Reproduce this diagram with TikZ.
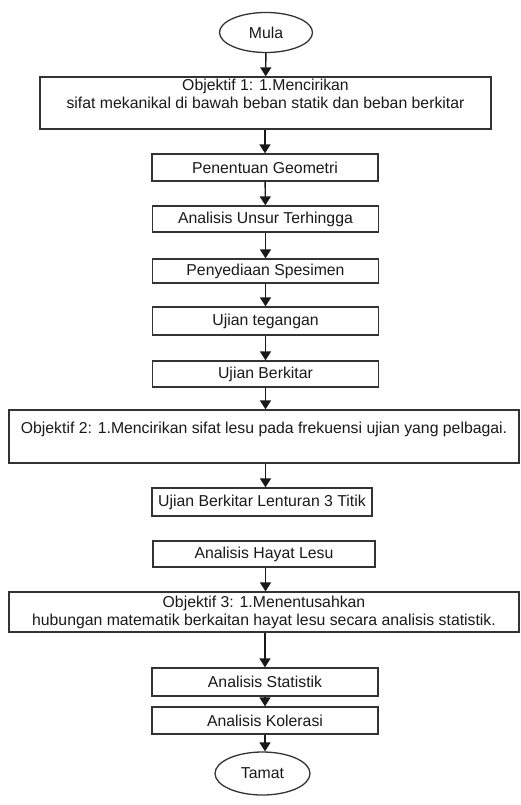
\documentclass[tikz,border=0pt]{standalone}
\usepackage{fontspec}
\setmainfont{Liberation Sans}
\usetikzlibrary{arrows.meta}
\usetikzlibrary{shapes.geometric}

\begin{document}
\begin{tikzpicture}[x=1pt,y=-1pt,
  txt/.style={font=\fontsize{15.8}{18}\selectfont, text=black!90},
  box/.style={txt, draw=black!80, line width=1.3pt, rectangle, inner sep=0pt,
    align=center, minimum width=226pt, minimum height=27pt},
  obj/.style={box, minimum width=510pt},
  ends/.style={txt, draw=black!80, line width=1.3pt, ellipse, inner sep=0pt,
    minimum width=93pt, minimum height=40pt},
  flow/.style={line width=1.4pt, black!90, -{Triangle[width=11pt,length=9pt]}}]
\useasboundingbox (0,0) rectangle (520,805);
% nodes, top to bottom
\node[ends] (mula) at (266,32.5) {Mula};
\node[box, minimum width=451pt, minimum height=52pt] (obj1) at (265.5,103)
  {Objektif 1: 1.Mencirikan\\sifat mekanikal di bawah beban statik dan beban berkitar\\\mbox{}};
\node[box] (geo) at (265,167.5) {Penentuan Geometri};
\node[box, minimum height=26pt] (unsur) at (265.5,219) {Analisis Unsur Terhingga};
\node[box, minimum height=24pt] (spes) at (265.5,271) {Penyediaan Spesimen};
\node[box, minimum height=28pt] (teg) at (265.5,321) {Ujian tegangan};
\node[box, minimum height=26pt] (berk) at (265.5,374) {Ujian Berkitar};
\node[obj, minimum height=53pt] (obj2) at (264,436.5)
  {Objektif 2: 1.Mencirikan sifat lesu pada frekuensi ujian yang pelbagai.\\\mbox{}};
\node[box, minimum width=220pt, minimum height=28pt] (lent) at (262,502) {Ujian Berkitar Lenturan 3 Titik};
\node[box, minimum width=222pt, minimum height=26pt] (hayat) at (264,554) {Analisis Hayat Lesu};
\node[obj, minimum height=40pt] (obj3) at (264,612)
  {Objektif 3: 1.Menentusahkan\\hubungan matematik berkaitan hayat lesu secara analisis statistik.};
\node[box, minimum height=28pt] (stat) at (265,682) {Analisis Statistik};
\node[box] (kol) at (265,720.5) {Analisis Kolerasi};
\node[ends, minimum width=95pt, minimum height=43pt] (tamat) at (262.5,773.5) {Tamat};
% connectors
\draw[flow] (mula) -- (obj1);
\draw[flow] (obj1.south -| geo) -- (geo);
\draw[flow] (geo) -- (unsur);
\draw[flow] (unsur) -- (spes);
\draw[flow] (spes) -- (teg);
\draw[flow] (teg) -- (berk);
\draw[flow] (berk) -- (berk |- obj2.north);
\draw[flow] (obj2.south -| berk) -- (lent.north -| berk);
\draw[flow] (hayat.south -| berk) -- (obj3.north -| berk);
\draw[flow] (obj3.south -| stat) -- (stat);
\draw[flow] (stat) -- (kol);
\draw[flow] (kol.south) -- (kol.south |- tamat.north);
\end{tikzpicture}
\end{document}
